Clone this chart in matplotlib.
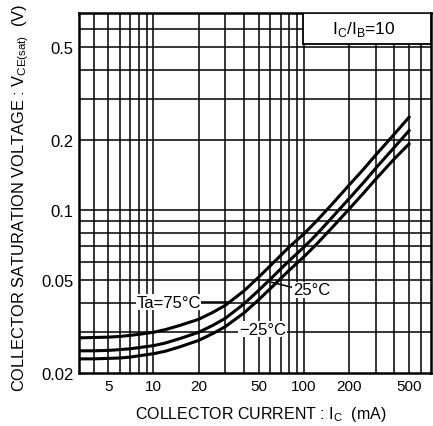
import matplotlib
matplotlib.use("Agg")
import matplotlib.pyplot as plt
from matplotlib.patches import Rectangle
from matplotlib.ticker import FixedLocator, NullFormatter

plt.rcParams['font.family'] = ['Liberation Sans', 'DejaVu Sans']

# collector current (mA)
IC = [3.2, 4, 5, 6, 7, 8, 10, 12, 15, 20, 25, 30, 40, 50, 60, 70, 80,
      100, 120, 150, 200, 250, 300, 400, 500]
# VCE(sat) (V) for each ambient temperature
V_75 = [0.0283, 0.0284, 0.0285, 0.0287, 0.0290, 0.0293, 0.0299, 0.0307,
        0.0320, 0.0340, 0.0365, 0.0390, 0.0450, 0.0515, 0.0578, 0.0638,
        0.0695, 0.0790, 0.0890, 0.1040, 0.1280, 0.1500, 0.1720, 0.2120,
        0.2500]
V_25 = [0.0249, 0.0249, 0.0250, 0.0252, 0.0254, 0.0257, 0.0262, 0.0269,
        0.0281, 0.0299, 0.0321, 0.0343, 0.0396, 0.0452, 0.0506, 0.0558,
        0.0607, 0.0693, 0.0780, 0.0912, 0.1120, 0.1315, 0.1510, 0.1860,
        0.2190]
V_M25 = [0.0230, 0.0230, 0.0231, 0.0232, 0.0234, 0.0237, 0.0242, 0.0248,
         0.0259, 0.0276, 0.0296, 0.0316, 0.0362, 0.0412, 0.0461, 0.0508,
         0.0552, 0.0630, 0.0708, 0.0825, 0.1010, 0.1185, 0.1355, 0.1660,
         0.1920]

XTICKS = [5, 10, 20, 50, 100, 200, 500]
YTICKS = [0.02, 0.05, 0.1, 0.2, 0.5]
XGRID = [4, 5, 6, 7, 8, 9, 10, 20, 30, 40, 50, 60, 70, 80, 90, 100,
         200, 300, 400, 500, 600]
YGRID = [0.03, 0.04, 0.05, 0.06, 0.07, 0.08, 0.09, 0.1, 0.2, 0.3, 0.4,
         0.5, 0.6]

fig = plt.figure(figsize=(4.33, 4.27), dpi=100)
ax = fig.add_axes([79 / 433, 1 - 374 / 427, 352 / 433, 360 / 427])
ax.set_xscale('log')
ax.set_yscale('log')
ax.set_xlim(3.2, 700)
ax.set_ylim(0.02, 0.7)

ax.xaxis.set_major_locator(FixedLocator(XTICKS))
ax.xaxis.set_minor_locator(FixedLocator(XGRID))
ax.yaxis.set_major_locator(FixedLocator(YTICKS))
ax.yaxis.set_minor_locator(FixedLocator(YGRID))
ax.set_xticklabels([str(t) for t in XTICKS])
ax.set_yticklabels([str(t) for t in YTICKS])
ax.xaxis.set_minor_formatter(NullFormatter())
ax.yaxis.set_minor_formatter(NullFormatter())
ax.tick_params(which='both', length=0)
ax.tick_params(axis='x', pad=4, labelsize=11)
ax.tick_params(axis='y', pad=4, labelsize=12)

for x in XGRID:
    ax.axvline(x, color='black', lw=1.1, zorder=1)
for y in YGRID:
    ax.axhline(y, color='black', lw=1.1, zorder=1)
for s in ax.spines.values():
    s.set_linewidth(1.8)

ax.plot(IC, V_75, color='black', lw=2.2, zorder=3)
ax.plot(IC, V_25, color='black', lw=2.2, zorder=3)
ax.plot(IC, V_M25, color='black', lw=2.2, zorder=3)

# condition box in the upper right corner
ax.add_patch(Rectangle((0.636, 0.914), 0.364, 0.086, transform=ax.transAxes,
                       facecolor='white', edgecolor='black', lw=1.3, zorder=4))
ax.text(0.81, 0.957, r'I$_\mathregular{C}$/I$_\mathregular{B}$=10', transform=ax.transAxes,
        ha='center', va='center', fontsize=12.5, zorder=5)

box = dict(facecolor='white', edgecolor='none', pad=0.5)
ax.text(12.6, 0.0403, 'Ta=75°C', ha='center', va='center', fontsize=12,
        bbox=box, zorder=5)
ax.plot([19.5, 32], [0.0403, 0.0403], color='black', lw=1.1, zorder=4)
ax.text(112, 0.0454, '25°C', ha='center', va='center', fontsize=12,
        bbox=box, zorder=5)
ax.plot([61, 88], [0.049, 0.0462], color='black', lw=1.1, zorder=4)
ax.text(53, 0.0308, '−25°C', ha='center', va='center', fontsize=12,
        bbox=box, zorder=5)

ax.set_xlabel(r'COLLECTOR CURRENT : I$_\mathregular{C}$  (mA)', fontsize=11.5)
ax.xaxis.set_label_coords(0.517, -0.086)
ax.set_ylabel(r'COLLECTOR SATURATION VOLTAGE : V$_\mathregular{CE(sat)}$  (V)',
              fontsize=11.8)
ax.yaxis.set_label_coords(-0.135, 0.49)

fig.savefig('out.png', dpi=100)
